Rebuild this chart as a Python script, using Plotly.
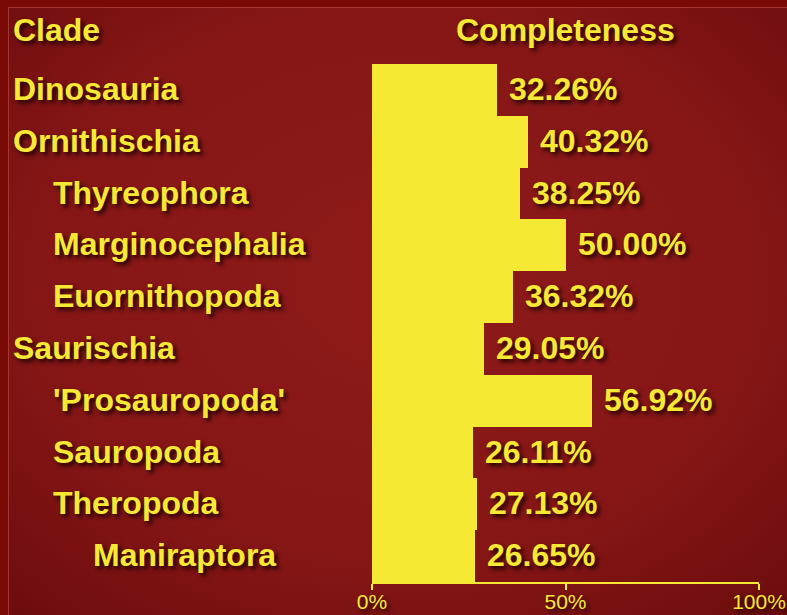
import base64
import plotly.graph_objects as go

clades = ["Dinosauria", "Ornithischia", "Thyreophora", "Marginocephalia", "Euornithopoda",
          "Saurischia", "'Prosauropoda'", "Sauropoda", "Theropoda", "Maniraptora"]
levels = [0, 0, 1, 1, 1, 0, 1, 1, 1, 2]
completeness = [32.26, 40.32, 38.25, 50.00, 36.32, 29.05, 56.92, 26.11, 27.13, 26.65]
tick_vals = [0, 50, 100]
tick_text = ["0%", "50%", "100%"]

W, H = 787, 615
L, R, T, B = 372, 28, 64, 33
PW, PH = W - L - R, H - T - B

YELLOW = "#f6e934"
SHADOW = "3px 3px 4px rgba(20,0,0,0.9)"
FONT = "Liberation Sans, Arial, sans-serif"

svg = f'''<svg xmlns="http://www.w3.org/2000/svg" width="{W}" height="{H}" viewBox="0 0 {W} {H}">
<defs><radialGradient id="g" cx="0.5" cy="0.45" r="0.75">
<stop offset="0" stop-color="#8f1a1a"/><stop offset="0.6" stop-color="#861616"/><stop offset="1" stop-color="#6c0c0c"/>
</radialGradient></defs>
<rect x="0" y="0" width="{W}" height="{H}" fill="#7a0a05"/>
<rect x="8" y="7" width="{W-8}" height="{H-7}" fill="url(#g)"/>
<line x1="8.5" y1="7.5" x2="{W}" y2="7.5" stroke="#c0504a" stroke-width="1" stroke-opacity="0.6"/>
<line x1="8.5" y1="7.5" x2="8.5" y2="{H}" stroke="#c0504a" stroke-width="1" stroke-opacity="0.6"/>
</svg>'''
src = "data:image/svg+xml;base64," + base64.b64encode(svg.encode()).decode()

fig = go.Figure()
fig.add_trace(go.Bar(
    x=completeness, y=clades, orientation="h",
    marker=dict(color=YELLOW, line=dict(width=0)),
    hoverinfo="skip",
))

annotations = []
for c, v in zip(clades, completeness):
    annotations.append(dict(
        x=v, y=c, xref="x", yref="y", text=f"{v:.2f}%", showarrow=False,
        xanchor="left", yanchor="middle", xshift=10, yshift=1,
        font=dict(family=FONT, size=32, color=YELLOW, weight="bold", shadow=SHADOW),
    ))
for c, lv in zip(clades, levels):
    annotations.append(dict(
        x=0, y=c, xref="paper", yref="y", text=c, showarrow=False,
        xanchor="left", yanchor="middle", xshift=-(L - 11) + 40 * lv, yshift=1,
        font=dict(family=FONT, size=32, color=YELLOW, weight="bold", shadow=SHADOW),
    ))
annotations.append(dict(
    x=0, y=1, xref="paper", yref="paper", text="Clade", showarrow=False,
    xanchor="left", yanchor="middle", xshift=-(L - 11), yshift=34,
    font=dict(family=FONT, size=32, color=YELLOW, weight="bold", shadow=SHADOW),
))
annotations.append(dict(
    x=50, y=1, xref="x", yref="paper", text="Completeness", showarrow=False,
    xanchor="center", yanchor="middle", yshift=34,
    font=dict(family=FONT, size=32, color=YELLOW, weight="bold", shadow=SHADOW),
))

fig.update_layout(
    width=W, height=H, autosize=False,
    margin=dict(l=L, r=R, t=T, b=B, pad=0, autoexpand=False),
    paper_bgcolor="#861616", plot_bgcolor="rgba(0,0,0,0)",
    bargap=0, showlegend=False,
    annotations=annotations,
    images=[dict(source=src, xref="paper", yref="paper",
                 x=-L / PW, y=1 + T / PH, sizex=W / PW, sizey=H / PH,
                 xanchor="left", yanchor="top", sizing="stretch", layer="below")],
    xaxis=dict(range=[0, 100], tickvals=tick_vals, ticktext=tick_text,
               showgrid=False, zeroline=False, showline=True, linecolor=YELLOW, linewidth=2,
               ticks="outside", ticklen=6, tickwidth=2, tickcolor=YELLOW,
               ticklabelstandoff=-6, automargin=False,
               tickfont=dict(family=FONT, size=21, color=YELLOW, shadow=SHADOW),
               fixedrange=True),
    yaxis=dict(autorange="reversed", showticklabels=False, showgrid=False, automargin=False,
               zeroline=False, showline=False, ticks="", fixedrange=True),
)

fig.write_html(
    "out.html",
    config={"displayModeBar": False},
    post_script="document.body.style.margin='0';document.body.style.overflow='hidden';",
)
